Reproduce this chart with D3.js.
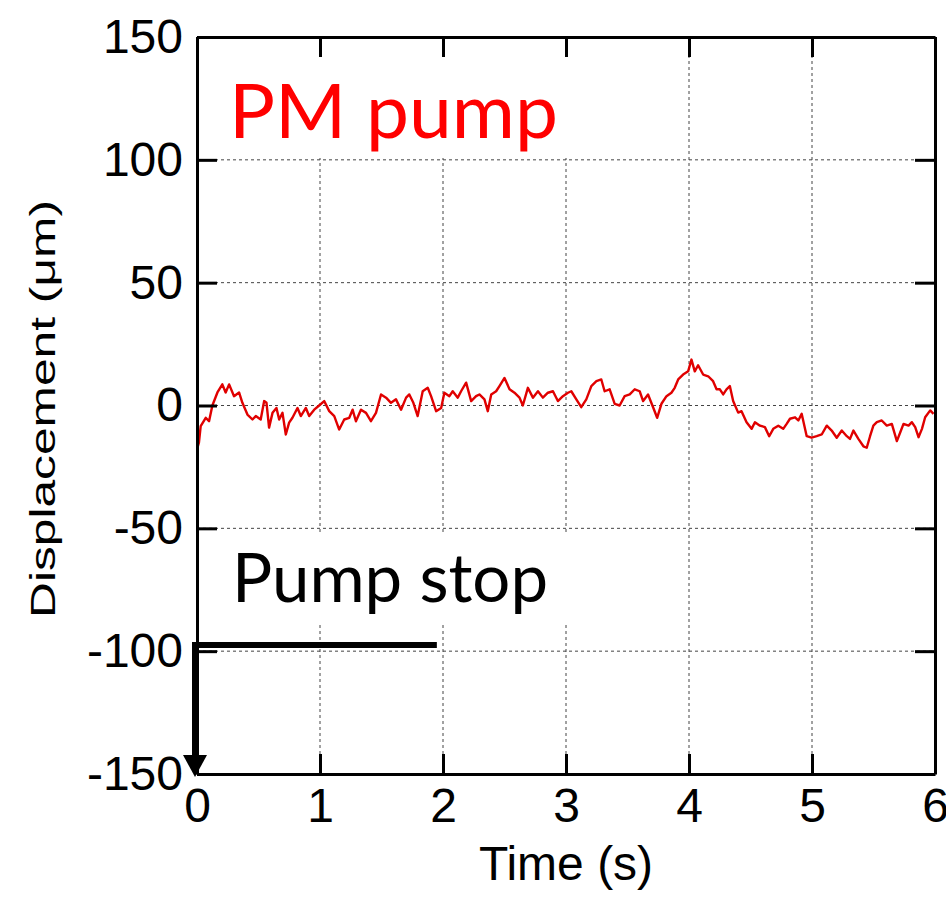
<!DOCTYPE html>
<html><head><meta charset="utf-8">
<script src="https://cdn.jsdelivr.net/npm/d3@7"></script>
<style>body{margin:0;background:#fff}svg{display:block}</style>
</head><body>
<svg id="c" width="946" height="901"></svg>
<script>
const timeS = [0.005,0.016,0.030,0.071,0.098,0.125,0.166,0.206,0.233,0.261,0.301,0.342,0.369,0.410,0.451,0.478,0.518,0.546,0.565,0.586,0.614,0.646,0.668,0.695,0.722,0.749,0.776,0.817,0.844,0.885,0.912,0.953,0.993,1.034,1.075,1.116,1.156,1.197,1.238,1.265,1.292,1.333,1.374,1.414,1.455,1.496,1.537,1.577,1.618,1.659,1.700,1.726,1.759,1.794,1.835,1.876,1.903,1.944,1.985,
2.011,2.052,2.079,2.120,2.147,2.188,2.229,2.269,2.296,2.337,2.364,2.392,2.432,2.459,2.500,2.541,2.581,2.622,2.649,2.690,2.731,2.772,2.812,2.853,2.894,2.934,2.975,3.016,3.043,3.084,3.124,3.165,3.206,3.247,3.287,3.314,3.355,3.396,3.436,3.477,3.518,3.559,3.599,3.627,3.667,3.708,3.741,3.776,3.817,3.857,3.884,3.912,3.952,3.993,4.020,
4.047,4.074,4.115,4.156,4.196,4.224,4.251,4.278,4.305,4.332,4.359,4.400,4.427,4.468,4.509,4.536,4.577,4.617,4.652,4.685,4.726,4.766,4.794,4.821,4.862,4.889,4.916,4.957,4.997,5.038,5.079,5.120,5.160,5.201,5.242,5.283,5.309,5.337,5.377,5.418,5.445,5.472,5.499,5.527,5.567,5.608,5.649,5.690,5.717,5.744,5.785,5.812,5.839,5.866,5.894,5.920,5.961,5.988];
const displacementUm = [-17,-15,-8.4,-5,-6.4,0,5.3,8.6,5.3,8.6,3.8,5.3,1.1,-3.7,-5.7,-4.3,-5.7,1.8,1.1,-9,-3,-1,-5.7,-3,-11.8,-7,-5,-1,-4.3,-1,-4.3,-1.7,0,1.8,-2.3,-4.3,-9.8,-5.7,-5,-1.7,-6.4,-1.7,-3,-6.4,-3,4.5,3.2,1.1,2.5,-1.7,3.2,4.5,1.1,-4.3,5.8,7.2,3.8,-2.3,-1,
5.2,3.8,5.8,3.2,5.8,9.3,1.8,3.8,4.5,2.5,-2.3,4.5,5.8,7.9,11.2,6.6,5.2,3.2,0,7.2,3.2,5.8,3.2,5.2,5.8,1.8,3.8,5.2,5.8,2.5,-0.7,2.5,7.9,9.9,10.6,5.8,6.6,0.7,0,3.8,4.5,6.6,5.8,1.8,4.5,-0.7,-5,0.7,3.8,5.2,7.2,10.6,12.6,13.9,18.7,
13.9,16.4,12.6,11.9,9.9,6.6,6.6,4.5,6.6,7.9,1.8,-2.9,-2.3,-6.8,-9.5,-6.8,-8.2,-8.8,-12.5,-9.5,-8.2,-9.5,-7.5,-5.4,-4.8,-6.1,-3.4,-12.5,-13.1,-12.5,-11.8,-8.2,-10.2,-13.1,-10.2,-12.5,-13.6,-10.2,-13.6,-16.6,-17.2,-12.5,-8.2,-6.8,-6.1,-8.2,-7.5,-14.5,-11,-7.5,-8.2,-6.8,-8.8,-12.9,-9.5,-4.8,-2,-3.4];
const xTicks = [0,1,2,3,4,5,6];
const yTicks = [-150,-100,-50,0,50,100,150];
const xLabel = "Time (s)";
const yLabel = "Displacement (μm)";
const seriesLabel = "PM pump";
const eventLabel = "Pump stop";
const eventTime = [0, 1.95];
const eventLevel = -97.5;

const svg = d3.select("#c");
const L = 197, R = 935, T = 37, B = 774;
const x = d3.scaleLinear().domain([0,6]).range([L, R]);
const y = d3.scaleLinear().domain([-150,150]).range([B, T]);
const AF = "'Liberation Sans', Arial, sans-serif";
const CF = "Lato, 'Open Sans', sans-serif";

// grid
const grid = svg.append("g");
grid.selectAll(".gx").data(xTicks.slice(1,-1)).join("line")
  .attr("x1", d=>x(d)).attr("x2", d=>x(d)).attr("y1", T).attr("y2", B)
  .attr("stroke", "#444").attr("stroke-width", 1).attr("stroke-dasharray", "3,3");
grid.selectAll(".gy").data(yTicks.slice(1,-1)).join("line")
  .attr("y1", d=>y(d)).attr("y2", d=>y(d)).attr("x1", L).attr("x2", R)
  .attr("stroke", "#444").attr("stroke-width", 1).attr("stroke-dasharray", "3,3");

// white boxes behind annotations
svg.append("rect").attr("x", 222).attr("y", 40).attr("width", 366).attr("height", 118).attr("fill", "#fff");
svg.append("rect").attr("x", 222).attr("y", 532).attr("width", 353).attr("height", 90).attr("fill", "#fff");

// data line
const data = timeS.map((t,i)=>[t, displacementUm[i]]);
svg.append("path").datum(data)
  .attr("d", d3.line().x(d=>x(d[0])).y(d=>y(d[1])))
  .attr("fill", "none").attr("stroke", "#e00000").attr("stroke-width", 2.4).attr("stroke-linejoin", "round");

// axes with inside ticks
const fmt = d => String(d);
function styleAxis(g){
  g.select(".domain").attr("stroke", "#000").attr("stroke-width", 3);
  g.selectAll(".tick line").attr("stroke", "#000").attr("stroke-width", 3);
  g.selectAll(".tick text").attr("fill", "#000").style("font-family", AF).style("font-size", "48px");
}
svg.append("g").attr("transform", `translate(0,${B})`)
  .call(d3.axisBottom(x).tickValues(xTicks).tickSize(-20).tickSizeOuter(0).tickPadding(14).tickFormat(fmt))
  .call(styleAxis);
svg.append("g").attr("transform", `translate(${L},0)`)
  .call(d3.axisLeft(y).tickValues(yTicks).tickSize(-20).tickSizeOuter(0).tickPadding(14).tickFormat(fmt))
  .call(styleAxis);
svg.append("g").attr("transform", `translate(0,${T})`)
  .call(d3.axisTop(x).tickValues(xTicks).tickSize(-20).tickSizeOuter(0).tickFormat(""))
  .call(styleAxis);
svg.append("g").attr("transform", `translate(${R},0)`)
  .call(d3.axisRight(y).tickValues(yTicks).tickSize(-20).tickSizeOuter(0).tickFormat(""))
  .call(styleAxis);

// axis titles
svg.append("text").attr("x", 566).attr("y", 880).attr("text-anchor", "middle")
  .style("font-family", AF).style("font-size", "48px").text(xLabel);
svg.append("text").attr("transform", "translate(55,409) rotate(-90)").attr("text-anchor", "middle")
  .attr("textLength", 418).attr("lengthAdjust", "spacingAndGlyphs")
  .style("font-family", AF).style("font-size", "35px").text(yLabel);

// annotations
svg.append("text").attr("x", 229).attr("y", 138)
  .attr("textLength", 329).attr("lengthAdjust", "spacingAndGlyphs")
  .style("font-family", CF).style("font-size", "75px").attr("fill", "#ff0000").text(seriesLabel);
svg.append("text").attr("x", 232).attr("y", 602)
  .attr("textLength", 316).attr("lengthAdjust", "spacingAndGlyphs")
  .style("font-family", CF).style("font-size", "67px").attr("fill", "#000").text(eventLabel);

// pump stop bar + arrow
svg.append("line").attr("x1", x(eventTime[0]) - 5).attr("x2", x(eventTime[1]))
  .attr("y1", y(eventLevel)).attr("y2", y(eventLevel)).attr("stroke", "#000").attr("stroke-width", 6);
const ax = x(eventTime[0]) - 2;
svg.append("line").attr("x1", ax).attr("x2", ax)
  .attr("y1", y(eventLevel) - 3).attr("y2", B - 18).attr("stroke", "#000").attr("stroke-width", 6);
svg.append("path").attr("d", `M${ax-12},${B-19}L${ax+12},${B-19}L${ax},${B+3}Z`).attr("fill", "#000");
</script>
</body></html>
